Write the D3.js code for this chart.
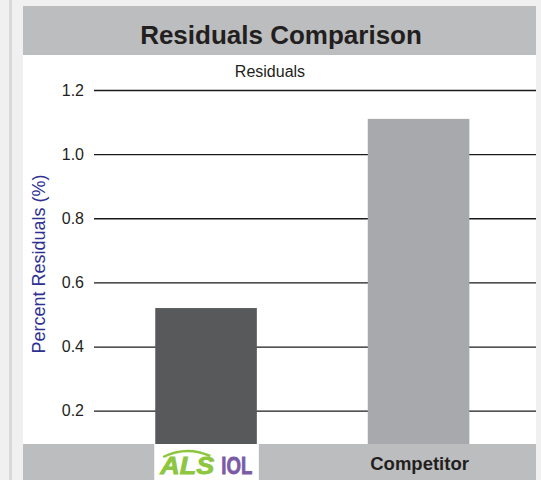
<!DOCTYPE html>
<html>
<head>
<meta charset="utf-8">
<script src="https://cdn.jsdelivr.net/npm/d3@7/dist/d3.min.js"></script>
<style>
  html, body { margin: 0; padding: 0; background: #f0f0f0; }
  svg { display: block; }
  text { font-family: "Liberation Sans", Arial, Helvetica, sans-serif; }
</style>
</head>
<body>
<svg id="chart" width="541" height="480"></svg>
<script>
// Chart data
const categories = ["ALSIOL", "Competitor"];
const residuals = [0.52, 1.11];
const tickValues = [0.2, 0.4, 0.6, 0.8, 1.0, 1.2];
const barColors = ["#58595b", "#a7a9ac"];

const W = 541, H = 480;
const panel = { left: 23, right: 536, top: 6 };
const plot = { left: 94, right: 536 };

const svg = d3.select("#chart");

// side rule on the page background
svg.append("rect").attr("x", 9).attr("y", 0).attr("width", 3).attr("height", H).attr("fill", "#d8d8d8");

// white panel
svg.append("rect")
  .attr("x", panel.left).attr("y", panel.top)
  .attr("width", panel.right - panel.left).attr("height", H - panel.top)
  .attr("fill", "#ffffff");

// title band
svg.append("rect")
  .attr("x", panel.left).attr("y", panel.top)
  .attr("width", panel.right - panel.left).attr("height", 49)
  .attr("fill", "#bcbdbf");
svg.append("text")
  .attr("x", 281).attr("y", 44)
  .attr("text-anchor", "middle")
  .attr("font-size", 26).attr("font-weight", "bold").attr("fill", "#231f20")
  .text("Residuals Comparison");

// subtitle
svg.append("text")
  .attr("x", 270).attr("y", 77)
  .attr("text-anchor", "middle")
  .attr("font-size", 16).attr("fill", "#231f20")
  .text("Residuals");

// scales
const y = d3.scaleLinear().domain([0, 1.2]).range([474.8, 90]);
const x = d3.scaleBand().domain(categories).range([100, 524.6])
  .paddingInner(0.522).paddingOuter(0.26);

// gridlines + tick labels
const axis = svg.append("g")
  .attr("transform", `translate(${plot.left},0)`)
  .call(d3.axisLeft(y).tickValues(tickValues).tickFormat(d3.format(".1f"))
    .tickSize(-(plot.right - plot.left)).tickPadding(10));
axis.select(".domain").remove();
axis.selectAll(".tick line").attr("stroke", "#1a1a1a").attr("stroke-width", 1.3);
axis.selectAll(".tick text")
  .attr("font-size", 16).attr("fill", "#231f20")
  .attr("font-family", "'Liberation Sans', Arial, Helvetica, sans-serif");

// bars
svg.append("g").selectAll("rect")
  .data(categories)
  .join("rect")
  .attr("x", d => x(d))
  .attr("width", x.bandwidth())
  .attr("y", (d, i) => y(residuals[i]))
  .attr("height", (d, i) => y(0) - y(residuals[i]))
  .attr("fill", (d, i) => barColors[i]);

// y-axis title
svg.append("text")
  .attr("transform", "translate(44.5,264) rotate(-90)")
  .attr("text-anchor", "middle")
  .attr("font-size", 18).attr("fill", "#2e3192")
  .text("Percent Residuals (%)");

// bottom category band
const bandTop = 444;
svg.append("rect")
  .attr("x", panel.left).attr("y", bandTop)
  .attr("width", panel.right - panel.left).attr("height", H - bandTop)
  .attr("fill", "#bcbdbf");

// ALSIOL logo cell
const ax = x("ALSIOL");
svg.append("rect")
  .attr("x", ax - 1).attr("y", bandTop)
  .attr("width", x.bandwidth() + 3).attr("height", H - bandTop)
  .attr("fill", "#ffffff");
const logoFont = "'Liberation Sans Narrow', 'DejaVu Sans Condensed', 'Liberation Sans', Arial, sans-serif";
const logo = svg.append("g");
logo.append("path")
  .attr("d", `M${ax + 8},457 Q${ax + 31},445.5 ${ax + 55},456`)
  .attr("fill", "none").attr("stroke", "#8dc63f").attr("stroke-width", 2.5);
logo.append("text")
  .attr("x", ax + 5).attr("y", 474)
  .attr("font-family", logoFont)
  .attr("font-size", 24).attr("font-weight", 900).attr("font-style", "italic")
  .attr("fill", "#8dc63f").attr("stroke", "#8dc63f").attr("stroke-width", 0.8)
  .attr("textLength", 54).attr("lengthAdjust", "spacingAndGlyphs")
  .text("ALS");
logo.append("text")
  .attr("x", ax + 66).attr("y", 474)
  .attr("font-family", logoFont)
  .attr("font-size", 24).attr("font-weight", 900)
  .attr("fill", "#7b5aa6").attr("stroke", "#7b5aa6").attr("stroke-width", 0.8)
  .attr("textLength", 31).attr("lengthAdjust", "spacingAndGlyphs")
  .text("IOL");

// Competitor label
svg.append("text")
  .attr("x", x("Competitor") + x.bandwidth() / 2 + 1).attr("y", 469.5)
  .attr("text-anchor", "middle")
  .attr("font-size", 18.5).attr("font-weight", "bold").attr("fill", "#231f20")
  .text("Competitor");
</script>
</body>
</html>
